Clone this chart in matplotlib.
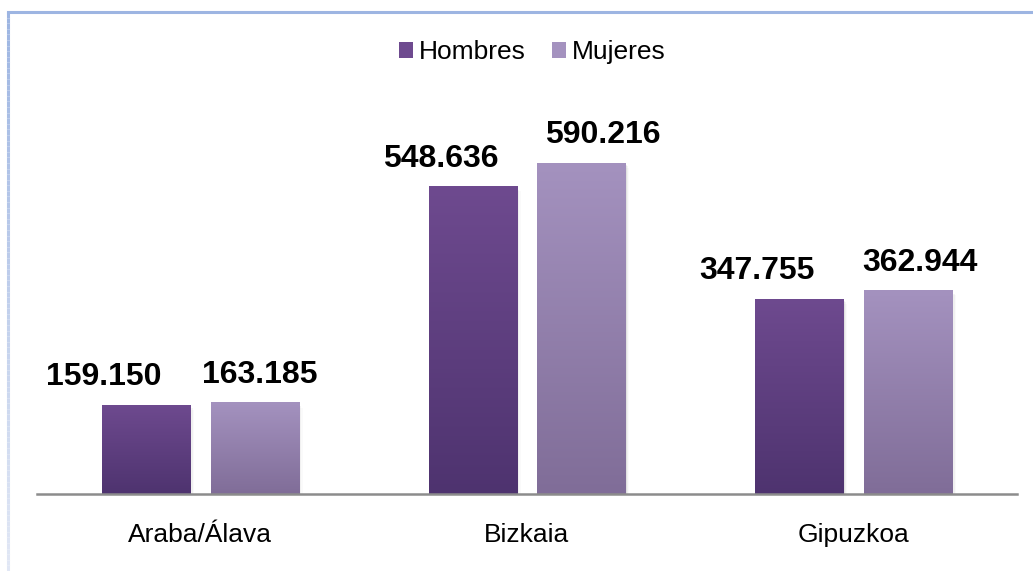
import numpy as np
import matplotlib
matplotlib.use("Agg")
import matplotlib.pyplot as plt
from matplotlib.colors import LinearSegmentedColormap, to_rgb
from matplotlib.collections import LineCollection
from matplotlib.patches import Rectangle

categories = ["Araba/Álava", "Bizkaia", "Gipuzkoa"]
series_names = ["Hombres", "Mujeres"]
hombres = [159150, 548636, 347755]
mujeres = [163185, 590216, 362944]
labels_h = ["159.150", "548.636", "347.755"]
labels_m = ["163.185", "590.216", "362.944"]

plt.rcParams["font.family"] = ["Liberation Sans", "DejaVu Sans"]

W, H = 1033, 571
fig = plt.figure(figsize=(W / 100, H / 100), dpi=100)
ax_left, ax_right = 37, 1017
ax_bottom, ax_top = 494, 101.4
ax = fig.add_axes([ax_left / W, 1 - ax_bottom / H, (ax_right - ax_left) / W, (ax_bottom - ax_top) / H])
ax.set_xlim(-0.5, 2.5)
ax.set_ylim(0, 700000)
for s in ["top", "right", "left"]:
    ax.spines[s].set_visible(False)
ax.spines["bottom"].set_color("#8c8c8c")
ax.spines["bottom"].set_linewidth(1.8)
ax.set_yticks([])
ax.set_xticks(range(len(categories)))
ax.set_xticklabels(categories, fontsize=19)
ax.tick_params(axis="x", length=0, pad=21)

grad_h = (to_rgb("#6e4a8f"), to_rgb("#4e336f"))
grad_m = (to_rgb("#a492bf"), to_rgb("#806d98"))

bw = 0.27
off = 0.1665
x = np.arange(len(categories))

def grad_bar(xc, val, cols):
    x0, x1 = xc - bw / 2, xc + bw / 2
    for i, a in enumerate([0.06, 0.04, 0.02]):
        sh = Rectangle((x0 + 0.004 * (i + 1), -3000 * (i + 1)), bw, val, facecolor="black",
                       alpha=a, edgecolor="none", zorder=1)
        ax.add_patch(sh)
    cmap = LinearSegmentedColormap.from_list("g", [cols[1], cols[0]])
    grad = np.linspace(0, 1, 256).reshape(-1, 1)
    im = ax.imshow(grad, extent=(x0, x1, 0, val), origin="lower", cmap=cmap,
                   aspect="auto", zorder=2, interpolation="bilinear")
    rect = Rectangle((x0, 0), bw, val, transform=ax.transData, facecolor="none", edgecolor="none")
    ax.add_patch(rect)
    im.set_clip_path(rect)

for i in range(len(categories)):
    grad_bar(x[i] - off, hombres[i], grad_h)
    grad_bar(x[i] + off, mujeres[i], grad_m)

ax.set_xlim(-0.5, 2.5)
ax.set_ylim(0, 700000)

dx_h = [-42, -32, -42]
dx_m = [5, 21, 12]
for i in range(len(categories)):
    ax.annotate(labels_h[i], (x[i] - off, hombres[i]), xytext=(dx_h[i] * 0.72, 9),
                textcoords="offset points", ha="center", va="bottom",
                fontsize=23, fontweight="bold", color="black", zorder=5)
    ax.annotate(labels_m[i], (x[i] + off, mujeres[i]), xytext=(dx_m[i] * 0.72, 9),
                textcoords="offset points", ha="center", va="bottom",
                fontsize=23, fontweight="bold", color="black", zorder=5)

handles = [Rectangle((0, 0), 1, 1, facecolor=grad_h[0]), Rectangle((0, 0), 1, 1, facecolor=grad_m[0])]
fig.legend(handles, series_names, loc="center", bbox_to_anchor=(532 / W, 1 - 52 / H),
           ncol=2, frameon=False, fontsize=19, handlelength=0.55, handleheight=0.55,
           handletextpad=0.2, columnspacing=1.0)

fig.add_artist(plt.Line2D([7.5 / W, 1], [1 - 12 / H, 1 - 12 / H], color="#9db5e2", lw=2.2,
                          transform=fig.transFigure))
n = 100
ys = np.linspace(12, H, n + 1)
segs = [[(7.5 / W, 1 - ys[k] / H), (7.5 / W, 1 - ys[k + 1] / H)] for k in range(n)]
c0, c1 = np.array(to_rgb("#9db5e2")), np.array(to_rgb("#e2e8f5"))
cols = [tuple(c0 + (c1 - c0) * (k / n)) for k in range(n)]
fig.add_artist(LineCollection(segs, colors=cols, linewidths=2.2, transform=fig.transFigure))

fig.savefig("out.png", dpi=100)
